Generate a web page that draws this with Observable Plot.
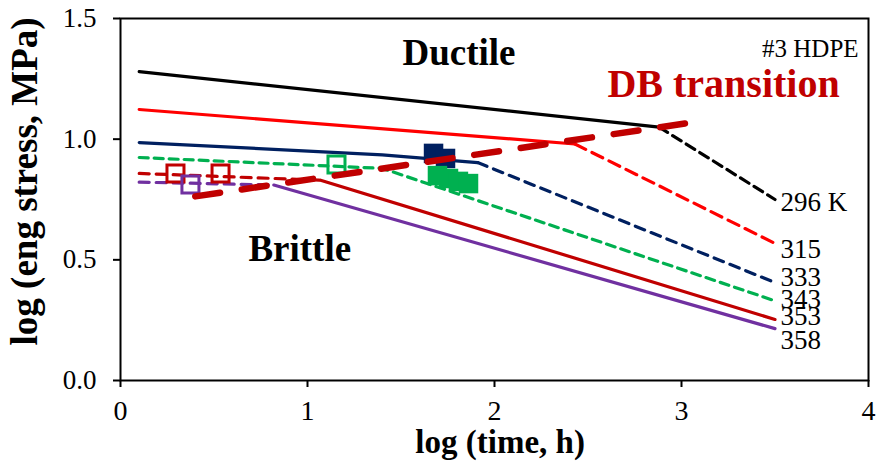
<!DOCTYPE html>
<html>
<head>
<meta charset="utf-8">
<script src="https://cdn.jsdelivr.net/npm/d3@7"></script>
<script src="https://cdn.jsdelivr.net/npm/@observablehq/plot@0.6"></script>
<style>
  html, body { margin: 0; padding: 0; background: #fff; }
  #chart svg { display: block; }
  #chart svg text { font-family: 'Liberation Serif', 'Times New Roman', serif; }
</style>
</head>
<body>
<div id="chart"></div>
<script>
// ---- data: log(time, h) vs log(eng stress, MPa) ----
const temps = ["296 K", "315", "333", "343", "353", "358"];

const solid296  = [[0.1, 1.28], [2.88, 1.05]];
const dashed296 = [[2.88, 1.05], [3.5, 0.75]];
const solid315  = [[0.1, 1.123], [2.43, 0.98]];
const dashed315 = [[2.43, 0.98], [3.5, 0.568]];
const solid333  = [[0.1, 0.986], [1.4, 0.935], [1.91, 0.903]];
const dashed333 = [[1.91, 0.903], [3.5, 0.406]];
const dashed343 = [[0.1, 0.924], [1.4, 0.879], [3.5, 0.33]];
const dashed353 = [[0.1, 0.858], [1.07, 0.83]];
const solid353  = [[1.07, 0.83], [3.5, 0.253]];
const dashed358 = [[0.1, 0.822], [0.82, 0.81]];
const solid358  = [[0.82, 0.81], [3.5, 0.215]];

// DB transition line
const dbTransition = [[0.4, 0.763], [3.09, 1.073]];

// open squares (353 K, 358 K, 343 K)
const open353 = [[0.294, 0.858], [0.535, 0.858]];
const open358 = [[0.374, 0.812]];
const open343 = [[1.155, 0.895]];
// filled squares (333 K, 343 K)
const filled333 = [[1.674, 0.941], [1.738, 0.92]];
const filled343 = [[1.695, 0.849], [1.754, 0.837], [1.807, 0.825], [1.861, 0.816]];

// end labels
const endLabelX = [3.53, 3.53, 3.53, 3.53, 3.53, 3.53];
const endLabelY = [0.740, 0.545, 0.429, 0.338, 0.264, 0.168];

const xTicks = [0, 1, 2, 3, 4];
const yTicks = [0, 0.5, 1.0, 1.5];

// ---- styles ----
const C = {
  "296 K": "#000000", "315": "#ff0000", "333": "#002060",
  "343": "#00b050", "353": "#c00000", "358": "#7030a0"
};
const serif = "'Liberation Serif', 'Times New Roman', serif";
const px = d => d[0], py = d => d[1];
const lw = 3.2;
const line = (data, color, dash) =>
  Plot.line(data, {x: px, y: py, stroke: color, strokeWidth: lw, strokeDasharray: dash, strokeLinejoin: "round"});

const labels = temps.map((t, i) => ({t, x: endLabelX[i], y: endLabelY[i]}));

const chart = Plot.plot({
  width: 876,
  height: 466,
  marginLeft: 120,
  marginRight: 8,
  marginTop: 18,
  marginBottom: 86,
  style: {fontFamily: serif, background: "#fff", color: "#000", overflow: "visible"},
  x: {domain: [0, 4]},
  y: {domain: [0, 1.5]},
  marks: [
    Plot.axisX({ticks: xTicks, tickSize: 7, tickPadding: 13, fontSize: 28, fontFamily: serif, tickFormat: d => String(d), label: null, strokeWidth: 2}),
    Plot.axisY({ticks: yTicks, tickSize: 7, tickPadding: 17, fontSize: 27, fontFamily: serif, tickFormat: d3.format(".1f"), label: null, strokeWidth: 2}),
    Plot.frame({stroke: "#000", strokeWidth: 2}),

    line(solid296, C["296 K"]),
    line(dashed296, C["296 K"], "10,6"),
    line(solid315, C["315"]),
    line(dashed315, C["315"], "12,7"),
    line(solid333, C["333"]),
    line(dashed333, C["333"], "10,7"),
    line(dashed343, C["343"], "9,6"),
    line(dashed353, C["353"], "10,7"),
    line(solid353, C["353"]),
    line(dashed358, C["358"], "10,7"),
    line(solid358, C["358"]),

    Plot.dot(filled333, {x: px, y: py, symbol: "square", r: 11, fill: C["333"], stroke: "none"}),
    Plot.dot(filled343, {x: px, y: py, symbol: "square", r: 11, fill: C["343"], stroke: "none"}),
    Plot.dot(open353, {x: px, y: py, symbol: "square", r: 9.6, fill: "none", stroke: C["353"], strokeWidth: 3}),
    Plot.dot(open358, {x: px, y: py, symbol: "square", r: 9.6, fill: "none", stroke: C["358"], strokeWidth: 3}),
    Plot.dot(open343, {x: px, y: py, symbol: "square", r: 9.6, fill: "none", stroke: C["343"], strokeWidth: 3}),

    Plot.line(dbTransition, {x: px, y: py, stroke: "#c00000", strokeWidth: 6.5, strokeDasharray: "25,22"}),

    Plot.text(labels, {x: "x", y: "y", text: "t", textAnchor: "start", lineAnchor: "middle", fontSize: 27, fill: "#000"}),

    Plot.text(["Ductile"], {x: 1.508, y: 1.358, text: d => d, textAnchor: "start", lineAnchor: "middle", fontSize: 37, fontWeight: "bold", fill: "#000"}),
    Plot.text(["Brittle"], {x: 0.684, y: 0.546, text: d => d, textAnchor: "start", lineAnchor: "middle", fontSize: 37, fontWeight: "bold", fill: "#000"}),
    Plot.text(["DB transition"], {x: 2.604, y: 1.226, text: d => d, textAnchor: "start", lineAnchor: "middle", fontSize: 40, fontWeight: "bold", fill: "#c00000"}),
    Plot.text(["#3 HDPE"], {x: 3.947, y: 1.373, text: d => d, textAnchor: "end", lineAnchor: "middle", fontSize: 25, fill: "#000"}),

    Plot.text(["log (time, h)"], {x: 2.03, y: -0.258, text: d => d, lineAnchor: "middle", fontSize: 33, fontWeight: "bold", fill: "#000"}),
    Plot.text(["log (eng stress, MPa)"], {x: -0.51, y: 0.825, rotate: -90, text: d => d, textAnchor: "middle", lineAnchor: "middle", fontSize: 37, fontWeight: "bold", fill: "#000"})
  ]
});
document.getElementById("chart").appendChild(chart);
// make sure tick labels use the serif face and intended sizes
d3.select(chart).selectAll('g[aria-label="x-axis tick label"]').attr("font-size", 28).attr("font-family", serif);
d3.select(chart).selectAll('g[aria-label="y-axis tick label"]').attr("font-size", 27).attr("font-family", serif);
</script>
</body>
</html>
